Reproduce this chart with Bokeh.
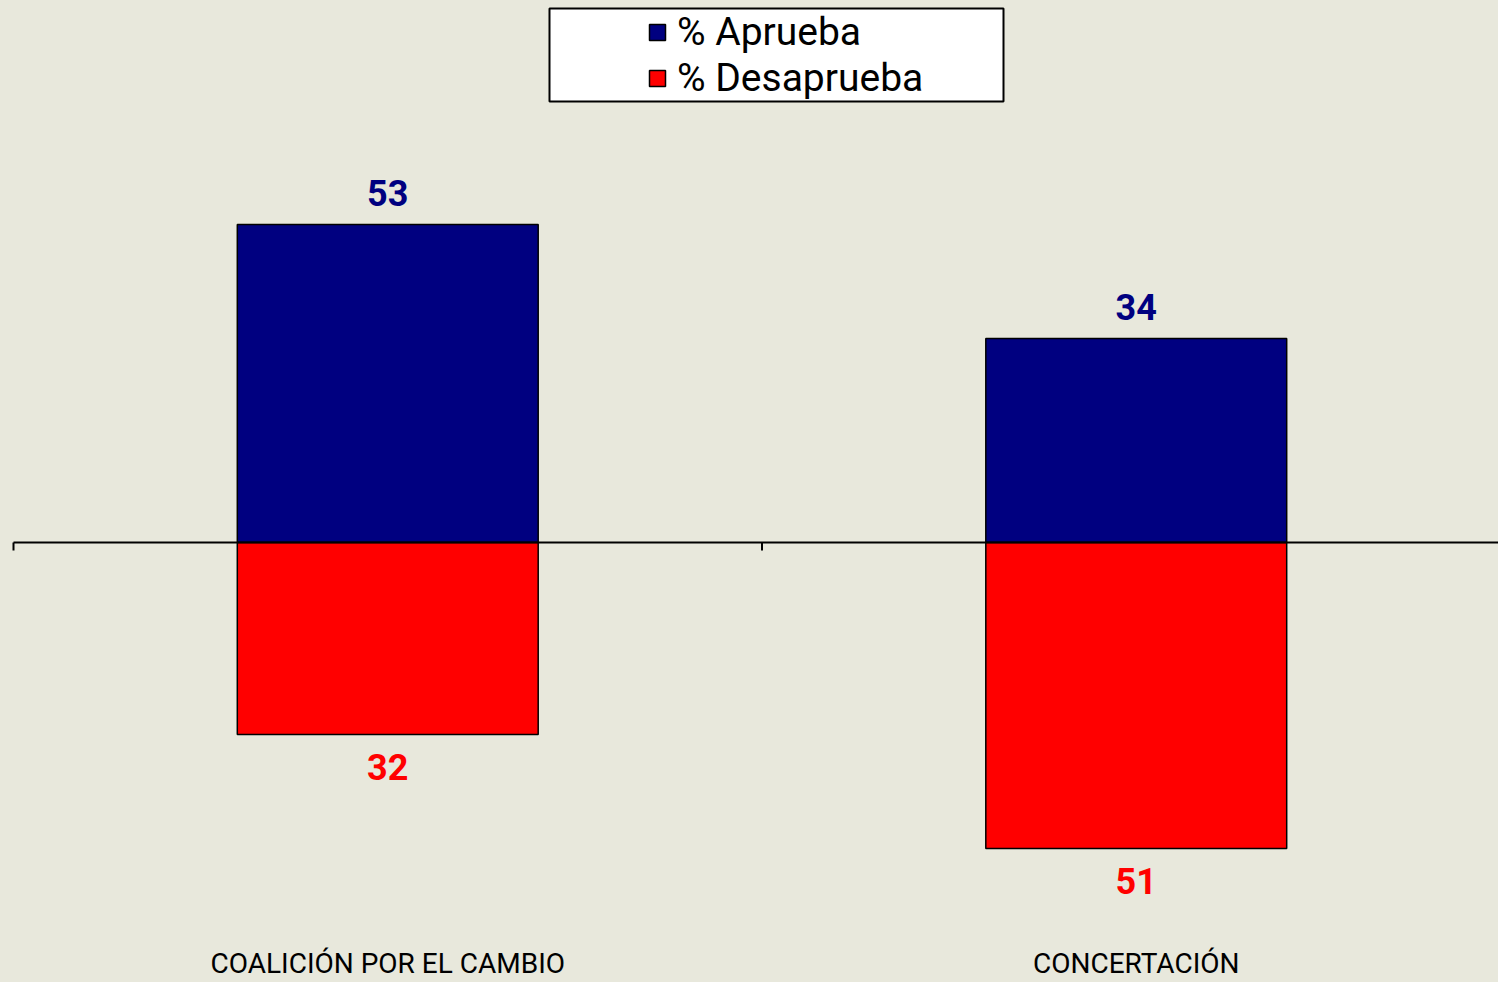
from bokeh.plotting import figure
from bokeh.models import (Range1d, Legend, LegendItem, BoxAnnotation, ColumnDataSource)
from bokeh.core.properties import value
from bokeh.embed import file_html
from bokeh.resources import INLINE

# ---- data ----
categories = ["COALICIÓN POR EL CAMBIO", "CONCERTACIÓN"]
series_names = ["% Aprueba", "% Desaprueba"]
aprueba = [53, 34]
desaprueba = [32, 51]

# ---- style ----
BG = "#E8E8DC"
NAVY = "#000080"
RED = "#FF0000"
FONT = "Roboto"

W, H = 1498, 982
X_PX = 748.5          # pixels per category slot
Y_PX = 6.0            # pixels per percentage point
LEFT_PX = 13          # first category boundary, pixels from left
ZERO_PX = 542         # zero line, pixels from top
x0 = -LEFT_PX / X_PX
x1 = x0 + W / X_PX
y1 = ZERO_PX / Y_PX
y0 = y1 - H / Y_PX

n = len(categories)
centers = [i + 0.5 for i in range(n)]
boundaries = list(range(n + 1))

src = ColumnDataSource(dict(
    x=centers,
    cat=categories,
    ap=aprueba,
    de=[-v for v in desaprueba],
    ap_lbl=[str(v) for v in aprueba],
    de_lbl=[str(v) for v in desaprueba],
))

p = figure(width=W, height=H, x_range=Range1d(x0, x1), y_range=Range1d(y0, y1),
           x_axis_type=None, y_axis_type=None, toolbar_location=None,
           output_backend="svg", min_border=0,
           background_fill_color=BG, border_fill_color=BG, outline_line_color=None)

r1 = p.vbar(x="x", top="ap", bottom=0, width=0.402, fill_color=NAVY,
            line_color="black", line_width=1.5, source=src)
r2 = p.vbar(x="x", top=0, bottom="de", width=0.402, fill_color=RED,
            line_color="black", line_width=1.5, source=src)

# zero line with downward ticks at the category boundaries
p.segment(x0=0, y0=0, x1=n, y1=0, line_color="black", line_width=2)
p.segment(x0=boundaries, y0=[0] * len(boundaries), x1=boundaries,
          y1=[-8 / Y_PX] * len(boundaries), line_color="black", line_width=2)

# value labels
p.text(x="x", y="ap", text="ap_lbl", source=src, text_align="center",
       text_baseline="middle", y_offset=-32, text_font=value(FONT),
       text_font_style="bold", text_font_size="36px", text_color=NAVY)
p.text(x="x", y="de", text="de_lbl", source=src, text_align="center",
       text_baseline="middle", y_offset=32, text_font=value(FONT),
       text_font_style="bold", text_font_size="36px", text_color=RED)

# category labels near the bottom
p.text(x="x", y=y1 - 963 / Y_PX, text="cat", source=src, text_align="center",
       text_baseline="middle", text_font=value(FONT),
       text_font_size="28px", text_color="black")

# legend frame
box = BoxAnnotation(left=(549 - LEFT_PX) / X_PX, right=(1003 - LEFT_PX) / X_PX,
                    top=y1 - 8 / Y_PX, bottom=y1 - 101 / Y_PX,
                    fill_color="white", fill_alpha=1.0,
                    line_color="black", line_alpha=1.0, line_width=2)
p.add_layout(box)

legend = Legend(items=[LegendItem(label=series_names[0], renderers=[r1]),
                       LegendItem(label=series_names[1], renderers=[r2])],
                location=(647, 881), orientation="vertical",
                padding=0, margin=0, spacing=0,
                glyph_width=20, glyph_height=20, label_standoff=10,
                label_text_font=FONT, label_text_font_size="39px",
                label_text_color="black",
                border_line_color=None, background_fill_alpha=0)
p.add_layout(legend, "center")

html = file_html(p, INLINE)
html = html.replace("</head>",
                    "<style>body{background:#E8E8DC;overflow:hidden;}</style></head>", 1)
open("out.html", "w").write(html)
